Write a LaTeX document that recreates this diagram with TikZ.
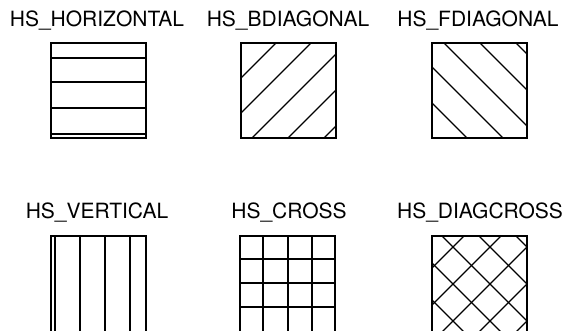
\documentclass[tikz,border=0pt]{standalone}
\usepackage{fontspec}
\setmainfont{TeX Gyre Heros}
\usepackage{tikz}

\begin{document}
\begin{tikzpicture}[x=1pt, y=-1pt,
  hatchlabel/.style={anchor=base, inner sep=0pt, font=\fontsize{21}{24}\selectfont},
  hatchbox/.style={draw, line width=1.7pt, anchor=north west, inner sep=0pt,
    minimum width=95pt, minimum height=95pt},
  openbox/.style={hatchbox, minimum height=110pt},
  hatch/.style={line width=1.2pt}
]
\useasboundingbox (0,0) rectangle (563,330);

% labels
\node (lhz) [hatchlabel] at (97,26) {HS\_HORIZONTAL};
\node (lbd) [hatchlabel] at (288,26) {HS\_BDIAGONAL};
\node (lfd) [hatchlabel] at (478,26) {HS\_FDIAGONAL};
\node (lvt) [hatchlabel] at (97,218) {HS\_VERTICAL};
\node (lcr) [hatchlabel] at (289,218) {HS\_CROSS};
\node (ldc) [hatchlabel] at (480,218) {HS\_DIAGCROSS};

% boxes
\node (hz) [hatchbox] at (50,42) {};
\node (bd) [hatchbox] at (240,42) {};
\node (fd) [hatchbox] at (431,42) {};
\node (vt) [openbox] at (50,235) {};
\node (cr) [openbox] at (239,235) {};
\node (dc) [openbox] at (431,235) {};

% hatching
\begin{scope}
  \clip (hz.north west) rectangle (hz.south east);
  \foreach \y in {58,82,108,134}
    \draw[hatch] (40,\y) -- (160,\y);
\end{scope}
\begin{scope}
  \clip (bd.north west) rectangle (bd.south east);
  \foreach \c in {37,72,108,144,180}
    \draw[hatch] (240-20,42+\c+20) -- (240+\c+20,42-20);
\end{scope}
\begin{scope}
  \clip (fd.north west) rectangle (fd.south east);
  \foreach \d in {-84,-48,-12,24,60}
    \draw[hatch] (431-20,42+\d-20) -- (431+140,42+\d+140);
\end{scope}
\begin{scope}
  \clip (vt.north west) rectangle (vt.south east);
  \foreach \x in {55,80,105,130}
    \draw[hatch] (\x,225) -- (\x,350);
\end{scope}
\begin{scope}
  \clip (cr.north west) rectangle (cr.south east);
  \foreach \x in {263,288,312}
    \draw[hatch] (\x,225) -- (\x,350);
  \foreach \y in {259,283,307}
    \draw[hatch] (230,\y) -- (345,\y);
\end{scope}
\begin{scope}
  \clip (dc.north west) rectangle (dc.south east);
  \foreach \c in {-3,34,71,108,145,182,219}
    \draw[hatch] (431-30,235+\c+30) -- (431+\c+30,235-30);
  \foreach \d in {-121,-84,-47,-10,27,64,101}
    \draw[hatch] (431-30,235+\d-30) -- (431+150,235+\d+150);
\end{scope}
\end{tikzpicture}
\end{document}
